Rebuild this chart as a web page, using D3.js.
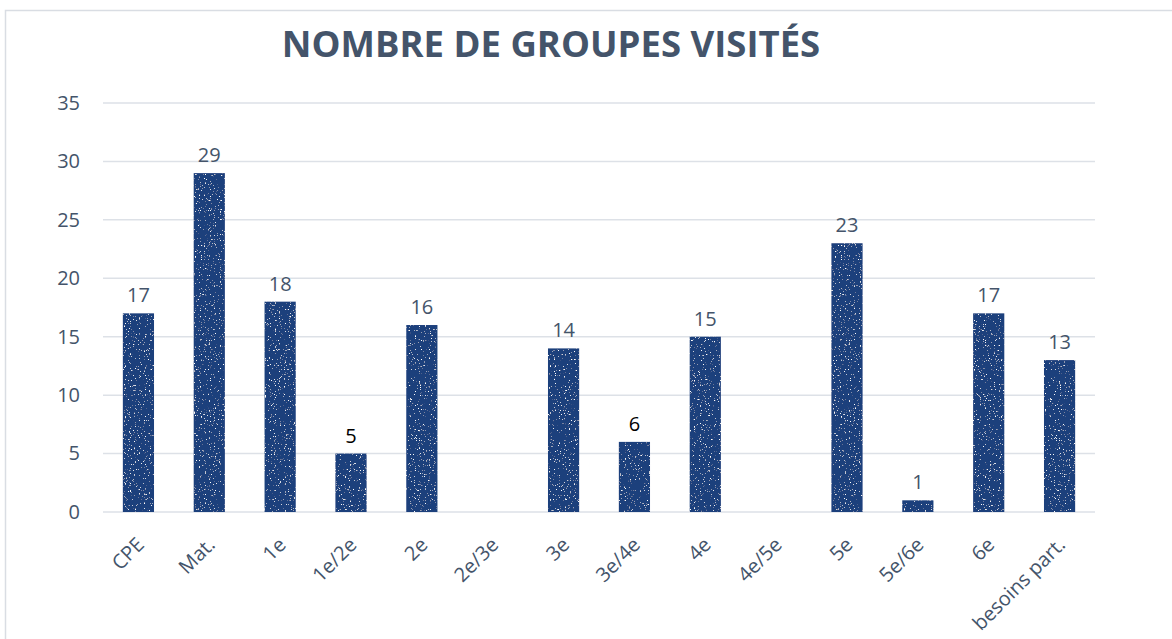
<!DOCTYPE html>
<meta charset="utf-8">
<script src="https://d3js.org/d3.v7.min.js"></script>
<style>
  body { margin: 0; background: #fff; }
  text { font-family: "Open Sans", "Noto Sans", sans-serif; }
</style>
<div id="chart"></div>
<script>

// data
var categories = ["CPE", "Mat.", "1e", "1e/2e", "2e", "2e/3e", "3e", "3e/4e", "4e", "4e/5e", "5e", "5e/6e", "6e", "besoins part."];
var values = [17, 29, 18, 5, 16, null, 14, 6, 15, null, 23, 1, 17, 13];
var yTicks = [0, 5, 10, 15, 20, 25, 30, 35];
var blackLabels = ["1e/2e", "3e/4e"];

var W = 1172, H = 639;
var margin = {top: 103, right: 77, bottom: 127, left: 103},
    width = W - margin.left - margin.right,
    height = H - margin.top - margin.bottom;

var svg = d3.select("#chart")
  .append("svg")
    .attr("width", W)
    .attr("height", H);

// speckle texture for the bars
var defs = svg.append("defs");
var f = defs.append("filter").attr("id", "speckle")
  .attr("x", 0).attr("y", 0).attr("width", 1).attr("height", 1);
f.append("feTurbulence")
  .attr("type", "fractalNoise").attr("baseFrequency", 0.8)
  .attr("numOctaves", 2).attr("seed", 3).attr("result", "noise");
f.append("feColorMatrix").attr("in", "noise").attr("type", "matrix")
  .attr("values", "0 0 0 0 1  0 0 0 0 1  0 0 0 0 1  8 0 0 0 -5.3")
  .attr("result", "dots");
f.append("feComposite").attr("in", "dots").attr("in2", "SourceGraphic")
  .attr("operator", "in").attr("result", "dotsIn");
f.append("feMerge").call(function(m) {
  m.append("feMergeNode").attr("in", "SourceGraphic");
  m.append("feMergeNode").attr("in", "dotsIn");
});

// outer frame
svg.append("rect")
  .attr("x", 5.5).attr("y", 10.5)
  .attr("width", W + 10).attr("height", H + 10)
  .attr("fill", "none")
  .attr("stroke", "#d9dde3")
  .attr("stroke-width", 1.5);

svg.append("text")
  .attr("x", 551)
  .attr("y", 57)
  .attr("text-anchor", "middle")
  .style("font-size", "36.5px")
  .style("font-weight", "bold")
  .style("fill", "#44546a")
  .text("NOMBRE DE GROUPES VISITÉS");

var g = svg.append("g")
  .attr("transform", "translate(" + margin.left + "," + margin.top + ")");

var x = d3.scaleBand()
  .domain(categories)
  .range([0, width])
  .paddingInner(0.56)
  .paddingOuter(0.28);

var y = d3.scaleLinear()
  .domain([0, 35])
  .range([height, 0]);

// gridlines
g.append("g")
  .selectAll("line")
  .data(yTicks)
  .enter()
  .append("line")
    .attr("x1", 0)
    .attr("x2", width)
    .attr("y1", function(d) { return y(d) })
    .attr("y2", function(d) { return y(d) })
    .attr("stroke", "#dde1e7")
    .attr("stroke-width", 1.5);

// y axis
var yAxis = g.append("g")
  .call(d3.axisLeft(y).tickValues(yTicks).tickSize(0).tickPadding(23));
yAxis.select(".domain").remove();
yAxis.selectAll("text")
  .style("font-size", "20px")
  .style("fill", "#44546a");

// x axis
var xAxis = g.append("g")
  .attr("transform", "translate(0," + height + ")")
  .call(d3.axisBottom(x).tickSize(0));
xAxis.select(".domain").remove();
xAxis.selectAll("text")
  .attr("text-anchor", "end")
  .attr("dy", null)
  .attr("y", 0)
  .attr("transform", "translate(7,34) rotate(-45)")
  .style("font-size", "20px")
  .style("fill", "#44546a");

// bars
var data = categories.map(function(c, i) { return {cat: c, value: values[i]} })
  .filter(function(d) { return d.value != null });

g.selectAll("rect.bar")
  .data(data)
  .enter()
  .append("rect")
    .attr("class", "bar")
    .attr("x", function(d) { return x(d.cat) })
    .attr("y", function(d) { return y(d.value) })
    .attr("width", x.bandwidth())
    .attr("height", function(d) { return height - y(d.value) })
    .attr("fill", "#1f3f7c")
    .attr("filter", "url(#speckle)");

// value labels
g.selectAll("text.val")
  .data(data)
  .enter()
  .append("text")
    .attr("class", "val")
    .attr("x", function(d) { return x(d.cat) + x.bandwidth() / 2 })
    .attr("y", function(d) { return y(d.value) - 11 })
    .attr("text-anchor", "middle")
    .style("font-size", "20px")
    .style("fill", function(d) { return blackLabels.indexOf(d.cat) >= 0 ? "#000" : "#44546a" })
    .text(function(d) { return d.value });

</script>
